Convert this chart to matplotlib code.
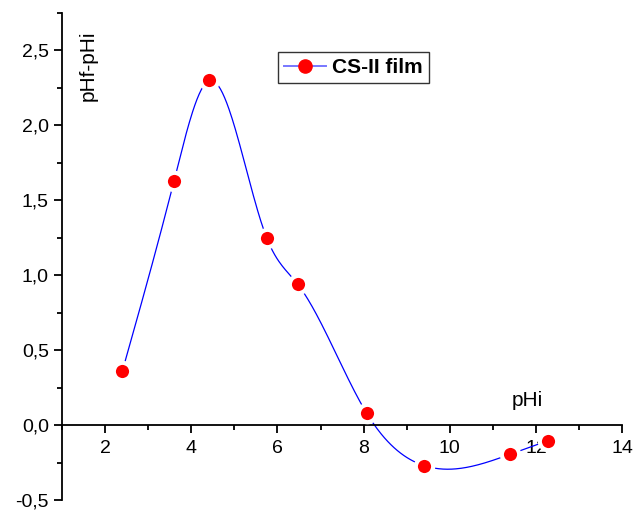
import numpy as np
import matplotlib
matplotlib.use("Agg")
import matplotlib.pyplot as plt
from matplotlib.ticker import MultipleLocator, FuncFormatter

plt.rcParams["font.family"] = ["Liberation Sans", "DejaVu Sans"]

# data
phi = [2.40, 3.60, 4.42, 5.75, 6.47, 8.07, 9.40, 11.40, 12.27]
dph = [0.36, 1.63, 2.30, 1.25, 0.94, 0.08, -0.27, -0.195, -0.105]
series_label = "CS-II film"


def natural_spline(x, y, n=400):
    """natural cubic spline, used only to draw the connecting line (like Origin spline)"""
    x = np.asarray(x, float)
    y = np.asarray(y, float)
    m = len(x)
    h = np.diff(x)
    A = np.zeros((m, m))
    b = np.zeros(m)
    A[0, 0] = A[-1, -1] = 1
    for i in range(1, m - 1):
        A[i, i - 1] = h[i - 1]
        A[i, i] = 2 * (h[i - 1] + h[i])
        A[i, i + 1] = h[i]
        b[i] = 6 * ((y[i + 1] - y[i]) / h[i] - (y[i] - y[i - 1]) / h[i - 1])
    M = np.linalg.solve(A, b)
    xs = np.linspace(x[0], x[-1], n)
    idx = np.clip(np.searchsorted(x, xs) - 1, 0, m - 2)
    x0, x1 = x[idx], x[idx + 1]
    hh = x1 - x0
    ys = (M[idx] * (x1 - xs) ** 3 / (6 * hh) + M[idx + 1] * (xs - x0) ** 3 / (6 * hh)
          + (y[idx] / hh - M[idx] * hh / 6) * (x1 - xs)
          + (y[idx + 1] / hh - M[idx + 1] * hh / 6) * (xs - x0))
    return xs, ys


fig = plt.figure(figsize=(6.44, 5.12), dpi=100)
ax = fig.add_axes([0.0963, 0.0234, 0.8697, 0.9512])

xs, ys = natural_spline(phi, dph)
ax.plot(xs, ys, color="#0000ff", linewidth=0.9, zorder=2)
ax.plot(phi, dph, linestyle="none", marker="o", markersize=12.5,
        markerfacecolor="#ff0000", markeredgecolor="white", markeredgewidth=3, zorder=3)

# legend proxy
ax.plot([], [], color="#7777ff", linewidth=1.4, marker="o", markersize=9.5,
        markerfacecolor="#ff0000", markeredgecolor="#ff0000", label=series_label)
leg = ax.legend(loc="upper left", bbox_to_anchor=(0.386, 0.92), frameon=True, fancybox=False,
                prop={"weight": "bold", "size": 15}, handlelength=2.0, handletextpad=0.3,
                borderpad=0.3, borderaxespad=0)
leg.get_frame().set_edgecolor("black")
leg.get_frame().set_linewidth(1.0)

ax.set_xlim(1, 14)
ax.set_ylim(-0.5, 2.75)

ax.spines["top"].set_visible(False)
ax.spines["right"].set_visible(False)
ax.spines["bottom"].set_position(("data", 0))
ax.spines["left"].set_linewidth(1.3)
ax.spines["bottom"].set_linewidth(1.3)

ax.xaxis.set_major_locator(MultipleLocator(2))
ax.xaxis.set_minor_locator(MultipleLocator(1))
ax.yaxis.set_major_locator(MultipleLocator(0.5))
ax.yaxis.set_minor_locator(MultipleLocator(0.25))

comma = FuncFormatter(lambda v, p: f"{v:.1f}".replace(".", ",").replace("-0,0", "0,0"))
ax.yaxis.set_major_formatter(comma)
ax.xaxis.set_major_formatter(FuncFormatter(lambda v, p: f"{v:.0f}"))

ax.tick_params(axis="both", which="major", direction="out", length=6, width=1.3, labelsize=14)
ax.tick_params(axis="both", which="minor", direction="out", length=3.5, width=1.3)
ax.tick_params(axis="x", pad=5)

ax.text(0.046, 0.965, "pHf-pHi", transform=ax.transAxes, rotation=90,
        fontsize=15, ha="center", va="top")
ax.text(0.83, 0.205, "pHi", transform=ax.transAxes, fontsize=15, ha="center", va="center")

fig.savefig("out.png", dpi=100)
